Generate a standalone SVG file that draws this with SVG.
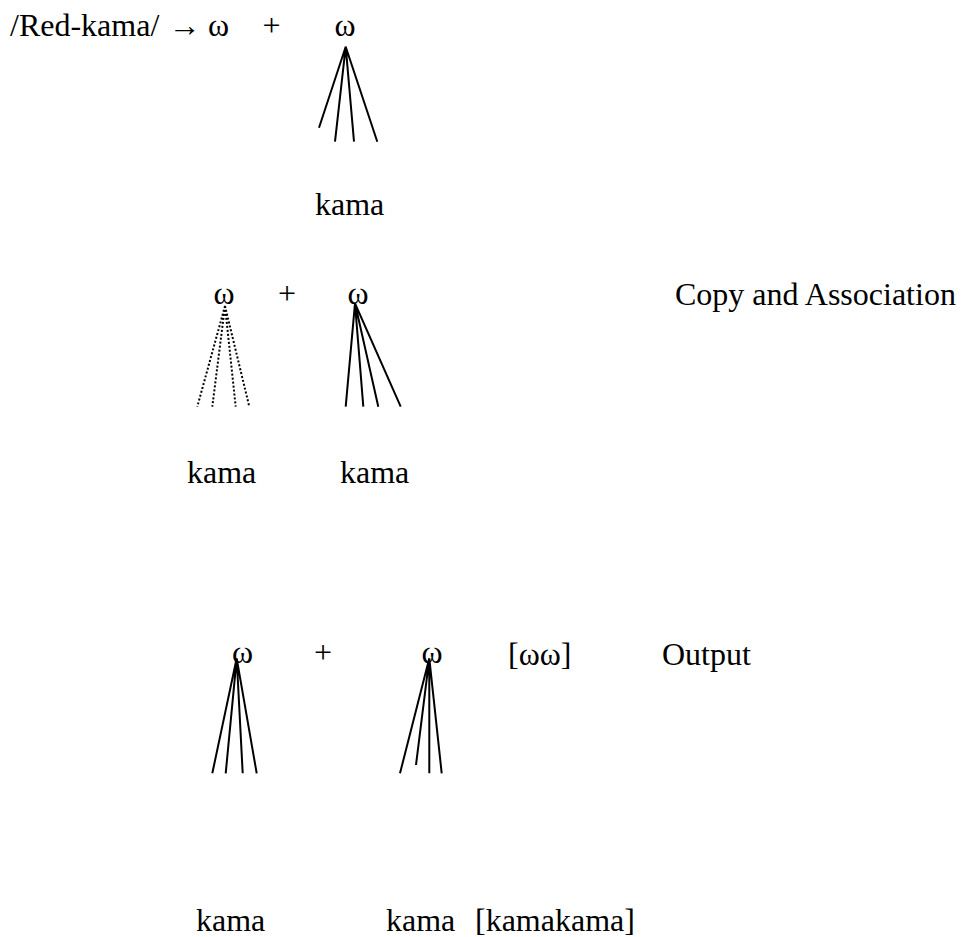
<svg xmlns="http://www.w3.org/2000/svg" width="962" height="937" viewBox="0 0 962 937">
<style>
text{font-family:"Liberation Serif","Times New Roman",serif;font-size:32px;fill:#000}
.m{text-anchor:middle}
.s{stroke:#000;stroke-width:2;fill:none}
.d{stroke:#000;stroke-width:2;fill:none;stroke-dasharray:2 2}
</style>
<rect width="962" height="937" fill="#fff"/>
<g id="row1">
<text x="10" y="36">/Red-kama/</text>
<text class="m" x="184.5" y="36">→</text>
<text class="m" x="218.5" y="36">ω</text>
<text class="m" x="271.5" y="36">+</text>
<text id="w1" class="m" x="345" y="36">ω</text>
<text id="k1" x="315" y="215">kama</text>
</g>
<g id="row2">
<text id="w2a" class="m" x="224" y="304">ω</text>
<text class="m" x="287" y="304">+</text>
<text id="w2b" class="m" x="358" y="304">ω</text>
<text x="675" y="305">Copy and Association</text>
<text id="k2a" x="187" y="483">kama</text>
<text id="k2b" x="340" y="483">kama</text>
</g>
<g id="row3">
<text id="w3a" class="m" x="242.5" y="663">ω</text>
<text class="m" x="323" y="663">+</text>
<text id="w3b" class="m" x="432" y="663">ω</text>
<text x="508" y="665">[ωω]</text>
<text x="662" y="665">Output</text>
<text id="k3a" x="196" y="931">kama</text>
<text id="k3b" x="386" y="931">kama</text>
<text x="475" y="931">[kamakama]</text>
</g>
<g id="connectors">
<path class="s" d="M345.7 46.7L319 127.7M345.7 46.7L335 141.7M345.7 46.7L354 141.7M345.7 46.7L377.3 141.7"/>
<path class="d" d="M225 306L197.3 406.7M225 306L212.3 406.7M225 306L235.7 406.7M225 306L249.3 406.7"/>
<path class="s" d="M355 303.3L345.7 406.7M355 303.3L363.3 406.7M355 303.3L378.3 406.7M355 303.3L400.7 406.7"/>
<path class="s" d="M236.7 658.3L212.3 773.3M236.7 658.3L225.7 773.3M236.7 658.3L242.7 773.3M236.7 658.3L256.7 773.3"/>
<path class="s" d="M429.3 658.3L400 773.3M429.3 658.3L416 765M429.3 658.3L429.3 773.3M429.3 658.3L441.7 773.3"/>
</g>
</svg>
